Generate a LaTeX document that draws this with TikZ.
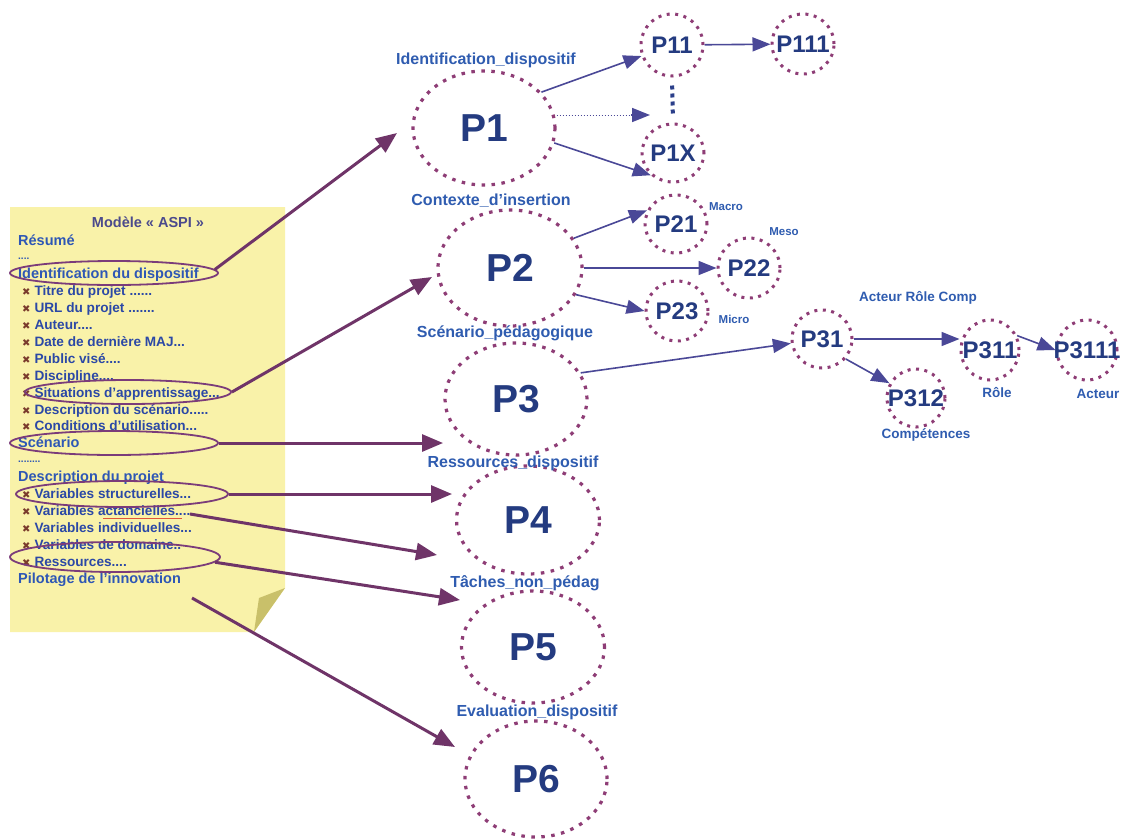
\documentclass[tikz,border=0pt]{standalone}
\usepackage{fontspec}
\setmainfont{Liberation Sans}
\newfontfamily\dingfont{DejaVu Sans}
\usetikzlibrary{shapes.geometric,arrows.meta}

\definecolor{pad}{HTML}{F9F2A9}
\definecolor{flap}{HTML}{C9C06A}
\definecolor{dotc}{HTML}{8E3D76}
\definecolor{arrc}{HTML}{6F3468}
\definecolor{linkc}{HTML}{4A4897}
\definecolor{ptext}{HTML}{243B80}
\definecolor{labc}{HTML}{2F5CB0}
\definecolor{headc}{HTML}{2E57B5}
\definecolor{itemc}{HTML}{2B48A6}
\definecolor{bulc}{HTML}{7A3B2C}
\definecolor{ringc}{HTML}{7B3C7A}
\definecolor{titlec}{HTML}{4B4A8C}
\definecolor{squig}{HTML}{E2553A}
\definecolor{vdots}{HTML}{2B3F8A}

\newcommand\xbul{{\dingfont\fontsize{10}{10}\selectfont\textcolor{bulc}{✖}}\hspace{4pt}}

\begin{document}
\begin{tikzpicture}[x=1pt,y=-1pt,
  every node/.style={inner sep=0pt},
  bigp/.style={ellipse, draw=dotc, line width=3.2pt, dash pattern=on 3.5pt off 6.5pt,
    minimum width=142pt, minimum height=114pt,
    label={[text=ptext,font=\fontsize{39}{41}\selectfont\bfseries]center:#1}},
  smallp/.style={ellipse, draw=dotc, line width=3pt, dash pattern=on 3pt off 5.5pt,
    minimum width=62pt, minimum height=60pt,
    label={[text=ptext,font=\fontsize{24}{26}\selectfont\bfseries]center:#1}},
  plab/.style={text=labc, font=\fontsize{16}{18}\selectfont\bfseries},
  slab/.style={text=labc, font=\fontsize{11.5}{13}\selectfont\bfseries},
  mlab/.style={text=labc, font=\fontsize{13.5}{15}\selectfont\bfseries},
  head/.style={anchor=base west, text=headc, font=\fontsize{14.5}{17}\selectfont\bfseries},
  item/.style={anchor=base west, text=itemc, font=\fontsize{13.6}{17}\selectfont\bfseries},
  ring/.style={ellipse, draw=ringc, line width=1.8pt},
  fat/.style={draw=arrc, line width=3pt, -{Triangle[length=21pt,width=17pt]}},
  link/.style={draw=linkc, line width=1.6pt, -{Triangle[length=18pt,width=14pt]}}]

\useasboundingbox (0,0) rectangle (1126,839);
\fill[white] (0,0) rectangle (1126,839);

% note pad with curled corner
\fill[pad] (10,207) -- (285,207) -- (285,588) -- (254,632) -- (10,632) -- cycle;
\fill[flap] (285,588) -- (259,598) -- (254,632) -- cycle;

% note pad text
\node[anchor=base, text=titlec, font=\fontsize{14.5}{17}\selectfont\bfseries] (title) at (148,227) {Modèle « ASPI »};
\node[head] (l0) at (18,245.0) {Résumé};
\node[head, font=\fontsize{10}{12}\selectfont\bfseries] (l1) at (18,259.5) {....};
\node[head] (l2) at (18,278.8) {Identification du dispositif};
\node[item] (l3) at (22,295.7) {\xbul Titre du projet ......};
\node[item] (l4) at (22,312.6) {\xbul URL du projet .......};
\node[item] (l5) at (22,329.5) {\xbul Auteur....};
\node[item] (l6) at (22,346.4) {\xbul Date de dernière MAJ...};
\node[item] (l7) at (22,363.3) {\xbul Public visé....};
\node[item] (l8) at (22,380.2) {\xbul Discipline....};
\node[item] (l9) at (22,397.1) {\xbul Situations d’apprentissage...};
\node[item] (l10) at (22,414.0) {\xbul Description du scénario.....};
\node[item] (l11) at (22,430.9) {\xbul Conditions d’utilisation...};
\node[head] (l12) at (18,447.8) {Scénario};
\node[head, font=\fontsize{10}{12}\selectfont\bfseries] (l13) at (18,462.7) {........};
\node[head] (l14) at (18,481.6) {Description du projet};
\node[item] (l15) at (22,498.5) {\xbul Variables structurelles...};
\node[item] (l16) at (22,515.4) {\xbul Variables actancielles....};
\node[item] (l17) at (22,532.3) {\xbul Variables individuelles...};
\node[item] (l18) at (22,549.2) {\xbul Variables de domaine..};
\node[item] (l19) at (22,566.1) {\xbul Ressources....};
\node[head] (l20) at (18,583.0) {Pilotage de l’innovation};
\draw[squig, line width=1pt] (103,518) -- (182,518);

% ringed entries
\node[ring, minimum width=208pt, minimum height=24pt] (e1) at (114,273) {};
\node[ring, minimum width=206pt, minimum height=24pt] (e2) at (128,392) {};
\node[ring, minimum width=208pt, minimum height=24pt] (e3) at (114,443) {};
\node[ring, minimum width=212pt, minimum height=26pt] (e4) at (122,494) {};
\node[ring, minimum width=210pt, minimum height=30pt] (e5) at (115,557) {};

% main parts
\node[bigp=P1, minimum width=142pt, minimum height=114pt] (P1) at (484,128) {};
\node[bigp=P2, minimum width=144pt, minimum height=116pt] (P2) at (510,268) {};
\node[bigp=P3, minimum width=142pt, minimum height=112pt] (P3) at (516,399) {};
\node[bigp=P4, minimum width=143pt, minimum height=108pt] (P4) at (528,520) {};
\node[bigp=P5, minimum width=143pt, minimum height=112pt] (P5) at (533,647) {};
\node[bigp=P6, minimum width=142pt, minimum height=116pt] (P6) at (536,779) {};

\node[plab] (n1) at (486,60) {Identification\_dispositif};
\node[plab] (n2) at (491,201) {Contexte\_d’insertion};
\node[plab] (n3) at (505,333) {Scénario\_pédagogique};
\node[plab] (n4) at (513,463) {Ressources\_dispositif};
\node[plab] (n5) at (525,583) {Tâches\_non\_pédag};
\node[plab] (n6) at (537,712) {Evaluation\_dispositif};

% sub-parts
\node[smallp=P11, minimum height=62pt] (P11) at (672,45) {};
\node[smallp=P111] (P111) at (803,44) {};
\node[smallp=P1X, minimum height=58pt] (P1X) at (673,153) {};
\node[smallp=P21, minimum height=58pt] (P21) at (676,224) {};
\node[smallp=P22] (P22) at (749,268) {};
\node[smallp=P23] (P23) at (677,311) {};
\node[smallp=P31, minimum width=60pt, minimum height=58pt] (P31) at (822,339) {};
\node[smallp=P311, minimum width=58pt] (P311) at (990,350) {};
\node[smallp=P3111, minimum width=60pt] (P3111) at (1087,350) {};
\node[smallp=P312, minimum width=58pt, minimum height=58pt] (P312) at (916,398) {};

\node[slab] (macro) at (726,207) {Macro};
\node[slab] (meso) at (784,232) {Meso};
\node[slab] (micro) at (734,319) {Micro};
\node[mlab] (arc) at (918,298) {Acteur Rôle Comp};
\node[mlab] (role) at (997,393) {Rôle};
\node[mlab] (acteur) at (1098,394) {Acteur};
\node[mlab] (comp) at (926,435) {Compétences};

% links between parts
\draw[link] (P1.32) -- (P11);
\coordinate (c1) at (650,115);
\coordinate (c0) at ([xshift=-19pt]c1);
\draw[linkc, line width=1pt, dash pattern=on 1.5pt off 1.5pt] (P1.east |- c1) -- (c0);
\draw[link] (c0) -- (c1);
\draw[link] (P1.-12) -- (P1X.225);
\draw[link] (P11) -- (P111);
\draw[vdots, line width=4pt, dash pattern=on 4pt off 4pt, shorten <=8pt, shorten >=6pt] (P11.south) -- (P1X.north);
\draw[link] (P2.25) -- (P21.155);
\draw[link] (P2.east |- P22) -- (P22.west);
\draw[link] (P2.-22) -- (P23.west);
\draw[link] (P3.22) -- (P31);
\draw[link] (P31.east) -- (P31.east -| P311.west);
\draw[link] (P311.28) -- (P3111.west);
\draw[link] (P31.-40) -- (P312);

% links from the note pad
\coordinate (t1) at (397,133);
\coordinate (t2) at (432,277);
\coordinate (t3) at (443,443);
\coordinate (t4) at (452,494);
\coordinate (s5) at (190,514);
\coordinate (t5) at (437,555);
\coordinate (t6) at (460,600);
\coordinate (s7) at (192,598);
\coordinate (t7) at (455,747);
\draw[fat] (e1.2) -- (t1);
\draw[fat] (e2.east) -- (t2);
\draw[fat] (e3.east) -- (t3);
\draw[fat] (e4.east) -- (t4);
\draw[fat] (s5) -- (t5);
\draw[fat] (e5.-3) -- (t6);
\draw[fat] (s7) -- (t7);
\end{tikzpicture}
\end{document}
